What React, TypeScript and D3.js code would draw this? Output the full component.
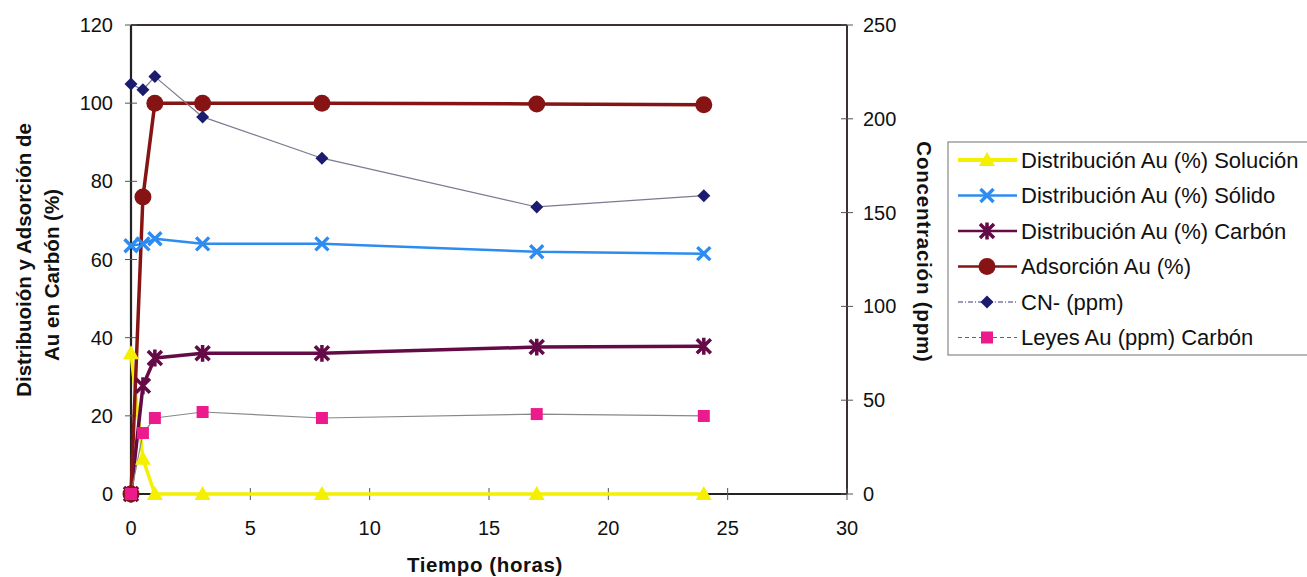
import React from "react";
import * as d3 from "d3";

const times = [0, 0.5, 1, 3, 8, 17, 24];
const solucion = [36, 9, 0, 0, 0, 0, 0];
const solido = [63.5, 64, 65.3, 64, 64, 62, 61.5];
const carbon = [0, 27.7, 34.8, 36, 36, 37.6, 37.8];
const adsorcion = [0, 76, 100, 100, 100, 99.8, 99.6];
const cn = [218.5, 215.5, 222.5, 201, 179, 153, 159];
const leyes = [0, 32.5, 40.5, 43.7, 40.5, 42.6, 41.6];

const xTicks = [0, 5, 10, 15, 20, 25, 30];
const yLeftTicks = [0, 20, 40, 60, 80, 100, 120];
const yRightTicks = [0, 50, 100, 150, 200, 250];

const legendLabels = [
  "Distribución Au (%) Solución",
  "Distribución Au (%) Sólido",
  "Distribución Au (%) Carbón",
  "Adsorción Au (%)",
  "CN- (ppm)",
  "Leyes Au (ppm) Carbón",
];

const FONT = "Liberation Sans, Arial, sans-serif";

const x = d3.scaleLinear().domain([0, 30]).range([131, 847]);
const yL = d3.scaleLinear().domain([0, 120]).range([494, 25]);
const yR = d3.scaleLinear().domain([0, 250]).range([494, 25]);

type MarkerKind = "tri" | "x" | "star" | "circle" | "diamond" | "square";

function Marker({ kind, cx, cy, color }: { kind: MarkerKind; cx: number; cy: number; color: string }) {
  if (kind === "tri") {
    const s = 8;
    return <path d={`M${cx},${cy - s}L${cx + s},${cy + s * 0.75}L${cx - s},${cy + s * 0.75}Z`} fill={color} />;
  }
  if (kind === "x") {
    const s = 6.5;
    return (
      <path d={`M${cx - s},${cy - s}L${cx + s},${cy + s}M${cx - s},${cy + s}L${cx + s},${cy - s}`} stroke={color} strokeWidth={3.4} />
    );
  }
  if (kind === "star") {
    const s = 7;
    return (
      <path
        d={`M${cx - s},${cy - s}L${cx + s},${cy + s}M${cx - s},${cy + s}L${cx + s},${cy - s}M${cx},${cy - s * 1.2}L${cx},${cy + s * 1.2}`}
        stroke={color}
        strokeWidth={3.5}
      />
    );
  }
  if (kind === "circle") return <circle cx={cx} cy={cy} r={8.5} fill={color} />;
  if (kind === "diamond") {
    const s = 6.5;
    return <path d={`M${cx},${cy - s}L${cx + s},${cy}L${cx},${cy + s}L${cx - s},${cy}Z`} fill={color} />;
  }
  return <rect x={cx - 6} y={cy - 6} width={12} height={12} fill={color} />;
}

const series = [
  { vals: solucion, axis: "L", line: "#f4f000", lw: 3.5, mk: "#f4f000", kind: "tri" as MarkerKind },
  { vals: solido, axis: "L", line: "#2d8cf0", lw: 2.5, mk: "#2d8cf0", kind: "x" as MarkerKind },
  { vals: carbon, axis: "L", line: "#640a46", lw: 3.5, mk: "#640a46", kind: "star" as MarkerKind },
  { vals: adsorcion, axis: "L", line: "#861414", lw: 3.5, mk: "#861414", kind: "circle" as MarkerKind },
  { vals: cn, axis: "R", line: "#7a7a90", lw: 1.2, mk: "#1c1c6e", kind: "diamond" as MarkerKind },
  { vals: leyes, axis: "R", line: "#888888", lw: 1.2, mk: "#ec1a8c", kind: "square" as MarkerKind },
];

const legendLine = [
  { c: "#f4f000", w: 4, dash: "" },
  { c: "#2d8cf0", w: 2.5, dash: "" },
  { c: "#640a46", w: 2.5, dash: "" },
  { c: "#861414", w: 2.5, dash: "" },
  { c: "#3a3a80", w: 1, dash: "5,2,1,2" },
  { c: "#ec1a8c", w: 1.2, dash: "4,3" },
];

export default function App() {
  return (
    <svg width={1307} height={577} style={{ position: "absolute", left: 0, top: 0, background: "#fff" }} fontFamily={FONT}>
      <rect x={0} y={0} width={1307} height={577} fill="#fff" />
      {/* frame */}
      <line x1={131} x2={847} y1={25} y2={25} stroke="#3a3036" strokeWidth={2} />
      <line x1={131} x2={847} y1={494} y2={494} stroke="#222" strokeWidth={2} />
      <line x1={131} x2={131} y1={25} y2={494} stroke="#222" strokeWidth={2.2} />
      <line x1={847} x2={847} y1={25} y2={494} stroke="#3a3036" strokeWidth={2} />

      {/* left ticks */}
      {yLeftTicks.map((t) => (
        <g key={"l" + t}>
          <line x1={125} x2={137} y1={yL(t)} y2={yL(t)} stroke="#555" strokeWidth={1} />
          <text x={113} y={yL(t)} dy="0.35em" textAnchor="end" fontSize={20} fill="#111">
            {t}
          </text>
        </g>
      ))}
      {/* right ticks */}
      {yRightTicks.map((t) => (
        <g key={"r" + t}>
          <line x1={841} x2={853} y1={yR(t)} y2={yR(t)} stroke="#555" strokeWidth={1} />
          <text x={863} y={yR(t)} dy="0.35em" textAnchor="start" fontSize={20} fill="#111">
            {t}
          </text>
        </g>
      ))}
      {/* bottom ticks */}
      {xTicks.map((t) => (
        <g key={"b" + t}>
          <line x1={x(t)} x2={x(t)} y1={488} y2={500} stroke="#555" strokeWidth={1} />
          <text x={x(t)} y={528} dy="0.35em" textAnchor="middle" fontSize={20} fill="#111">
            {t}
          </text>
        </g>
      ))}

      {/* series lines */}
      {series.map((s, i) => {
        const sc = s.axis === "L" ? yL : yR;
        const gen = d3
          .line<number>()
          .x((_, j) => x(times[j]))
          .y((v) => sc(v));
        return (
          <path key={"p" + i} d={gen(s.vals) || ""} fill="none" stroke={s.line} strokeWidth={s.lw} strokeLinejoin="round" />
        );
      })}
      {series.map((s, i) => {
        const sc = s.axis === "L" ? yL : yR;
        return (
          <g key={"m" + i}>
            {s.vals.map((v, j) => (
              <Marker key={j} kind={s.kind} cx={x(times[j])} cy={sc(v)} color={s.mk} />
            ))}
          </g>
        );
      })}

      {/* axis titles */}
      <text transform="translate(23,260) rotate(-90)" textAnchor="middle" dominantBaseline="central" fontSize={20.5} fontWeight="bold" fill="#111">
        Distribuoión y Adsorción de
      </text>
      <text transform="translate(51,275) rotate(-90)" textAnchor="middle" dominantBaseline="central" fontSize={20.5} fontWeight="bold" fill="#111">
        Au en Carbón (%)
      </text>
      <text transform="translate(924,252) rotate(90)" textAnchor="middle" dominantBaseline="central" fontSize={20.5} fontWeight="bold" fill="#111" letterSpacing={0.8}>
        Concentración (ppm)
      </text>
      <text x={485} y={572} textAnchor="middle" fontSize={20.5} fontWeight="bold" fill="#111" letterSpacing={0.6}>
        Tiempo (horas)
      </text>

      {/* legend */}
      <rect x={948} y={142} width={370} height={213} fill="#fff" stroke="#888" strokeWidth={1.2} />
      {legendLabels.map((lab, i) => {
        const cy = 160 + i * 35.5;
        const s = series[i];
        const ll = legendLine[i];
        return (
          <g key={"lg" + i}>
            <line x1={958} x2={1017} y1={cy} y2={cy} stroke={ll.c} strokeWidth={ll.w} strokeDasharray={ll.dash} />
            <Marker kind={s.kind} cx={987} cy={cy} color={s.mk} />
            <text x={1021} y={cy} dy="0.36em" fontSize={22} fill="#111">
              {lab}
            </text>
          </g>
        );
      })}
    </svg>
  );
}
